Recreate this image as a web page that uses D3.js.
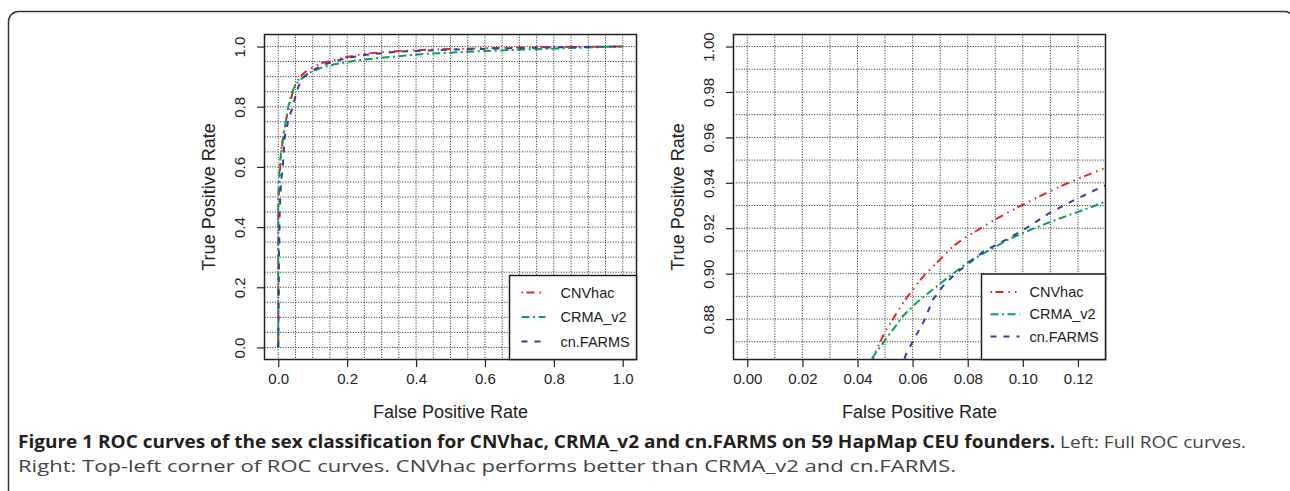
<!DOCTYPE html>
<html>
<head>
  <meta charset="UTF-8">
  <style>
    body { margin: 0; background: #fff; }
    svg { display: block; }
    .tick text { font-family: "Liberation Sans", Arial, sans-serif; }
  </style>
</head>
<body>
<svg></svg>
<script src="https://d3js.org/d3.v7.min.js"></script>
<script>

let width = 1290, height = 491;

// ROC points [fpr, tpr]
const methods = ["CNVhac", "CRMA_v2", "cn.FARMS"];

const cnvhac = [[0,0],[0,0.45],[0.003,0.55],[0.007,0.62],[0.012,0.68],[0.017,0.72],[0.025,0.77],[0.034,0.81],
  [0.040,0.84],[0.0462,0.8647],[0.0499,0.8742],[0.0566,0.8873],[0.0602,0.8932],[0.0645,0.8997],[0.0700,0.9063],
  [0.0747,0.9121],[0.0796,0.9163],[0.0845,0.9198],[0.0905,0.9242],[0.0989,0.9297],[0.105,0.9334],[0.1135,0.9384],
  [0.1207,0.9421],[0.129,0.9461],[0.16,0.955],[0.2,0.965],[0.25,0.976],[0.35,0.985],[0.45,0.99],[0.55,0.993],
  [0.7,0.997],[0.85,0.999],[1,1]];

const crma = [[0,0],[0,0.5],[0.004,0.6],[0.009,0.66],[0.0145,0.70],[0.02,0.74],[0.029,0.80],[0.039,0.845],
  [0.0455,0.8632],[0.0499,0.8705],[0.0566,0.8815],[0.0615,0.8873],[0.0675,0.8932],[0.0736,0.8990],[0.0808,0.9056],
  [0.0869,0.9097],[0.0953,0.9154],[0.1038,0.9198],[0.1122,0.9238],[0.1207,0.9275],[0.129,0.9312],[0.16,0.94],
  [0.228,0.954],[0.3,0.963],[0.421,0.975],[0.55,0.983],[0.711,0.99],[0.9,0.997],[1,1]];

const cnfarms = [[0,0],[0.002,0.3],[0.004,0.45],[0.008,0.55],[0.013,0.60],[0.019,0.70],[0.03,0.76],[0.042,0.80],
  [0.051,0.84],[0.0574,0.8639],[0.0602,0.8705],[0.0639,0.8786],[0.0675,0.8888],[0.0711,0.8946],[0.0760,0.9005],
  [0.0808,0.9049],[0.0857,0.9097],[0.0941,0.9151],[0.1014,0.9202],[0.1098,0.9268],[0.1195,0.9329],[0.129,0.9384],
  [0.16,0.95],[0.2,0.962],[0.25,0.972],[0.35,0.983],[0.45,0.988],[0.55,0.991],[0.7,0.995],[0.85,0.998],[1,1]];

const curves = [cnvhac, crma, cnfarms];
const colors = ["#e8231f", "#00a651", "#3b3ba0"];
const dashes = ["1.5,3.5,8,5,1.5,5", "8,3.5,2,3.5", "6,7"];

// axis ticks
const fullTicks = [0, 0.2, 0.4, 0.6, 0.8, 1.0];
const zoomXTicks = [0, 0.02, 0.04, 0.06, 0.08, 0.10, 0.12];
const zoomYTicks = [0.88, 0.90, 0.92, 0.94, 0.96, 0.98, 1.00];

const captionBold = "Figure 1 ROC curves of the sex classification for CNVhac, CRMA_v2 and cn.FARMS on 59 HapMap CEU founders.";
const captionRest = " Left: Full ROC curves.";
const captionLine2 = "Right: Top-left corner of ROC curves. CNVhac performs better than CRMA_v2 and cn.FARMS.";

let svg = d3.select("svg")
    .attr("width", width)
    .attr("height", height);

// figure frame
svg.append("rect")
    .attr("x", 8.5).attr("y", 11.5)
    .attr("width", 1286).attr("height", 540)
    .attr("rx", 10)
    .attr("fill", "none")
    .attr("stroke", "#333")
    .attr("stroke-width", 1.5);

function panel(opt) {
    let x = d3.scaleLinear().domain(opt.xdom).range([opt.left, opt.right]);
    let y = d3.scaleLinear().domain(opt.ydom).range([opt.bottom, opt.top]);
    let g = svg.append("g");

    // grid
    let gx = d3.range(Math.ceil(opt.xdom[0] / opt.grid), Math.floor(opt.xdom[1] / opt.grid) + 1).map(i => i * opt.grid);
    let gy = d3.range(Math.ceil(opt.ydom[0] / opt.grid), Math.floor(opt.ydom[1] / opt.grid) + 1).map(i => i * opt.grid);
    g.append("g").selectAll("line").data(gx).enter().append("line")
        .attr("x1", d => x(d)).attr("x2", d => x(d))
        .attr("y1", opt.top).attr("y2", opt.bottom)
        .attr("stroke", "#222").attr("stroke-width", 1).attr("stroke-dasharray", "1,1.6");
    g.append("g").selectAll("line").data(gy).enter().append("line")
        .attr("x1", opt.left).attr("x2", opt.right)
        .attr("y1", d => y(d)).attr("y2", d => y(d))
        .attr("stroke", "#222").attr("stroke-width", 1).attr("stroke-dasharray", "1,1.6");

    // curves
    let clipId = "clip" + opt.id;
    svg.append("clipPath").attr("id", clipId).append("rect")
        .attr("x", opt.left).attr("y", opt.top)
        .attr("width", opt.right - opt.left).attr("height", opt.bottom - opt.top);
    let line = d3.line().x(d => x(d[0])).y(d => y(d[1]));
    g.append("g").attr("clip-path", "url(#" + clipId + ")")
        .selectAll("path").data(curves).enter().append("path")
        .attr("d", line)
        .attr("fill", "none")
        .attr("stroke", (d, i) => colors[i])
        .attr("stroke-width", 2)
        .attr("stroke-dasharray", (d, i) => dashes[i]);

    // axes
    let xAxis = d3.axisBottom(x).tickValues(opt.xticks).tickFormat(d3.format(opt.fmt)).tickSize(7).tickPadding(6);
    let xa = g.append("g").attr("transform", "translate(0," + (opt.bottom + 0.5) + ")").call(xAxis);
    xa.select(".domain").remove();
    xa.selectAll("text").attr("font-size", 15).attr("fill", "#222");
    xa.selectAll("line").attr("stroke", "#222").attr("stroke-width", 1.2);

    let yAxis = d3.axisLeft(y).tickValues(opt.yticks).tickFormat(d3.format(opt.yfmt)).tickSize(7);
    let ya = g.append("g").attr("transform", "translate(" + (opt.left - 0.5) + ",0)").call(yAxis);
    ya.select(".domain").remove();
    ya.selectAll("line").attr("stroke", "#222").attr("stroke-width", 1.2);
    ya.selectAll("text")
        .attr("font-size", 15).attr("fill", "#222")
        .attr("text-anchor", "middle")
        .attr("x", 0).attr("dy", 0)
        .attr("transform", "translate(-19,0) rotate(-90)");

    // box
    g.append("rect")
        .attr("x", opt.left).attr("y", opt.top)
        .attr("width", opt.right - opt.left).attr("height", opt.bottom - opt.top)
        .attr("fill", "none").attr("stroke", "#222").attr("stroke-width", 1.5);

    // titles
    g.append("text")
        .attr("x", (opt.left + opt.right) / 2).attr("y", 418)
        .attr("text-anchor", "middle")
        .attr("font-family", "Liberation Sans, Arial, sans-serif")
        .attr("font-size", 18).attr("fill", "#222")
        .text("False Positive Rate");
    g.append("text")
        .attr("transform", "translate(" + (opt.left - 50) + "," + ((opt.top + opt.bottom) / 2) + ") rotate(-90)")
        .attr("text-anchor", "middle")
        .attr("font-family", "Liberation Sans, Arial, sans-serif")
        .attr("font-size", 18).attr("fill", "#222")
        .text("True Positive Rate");

    // legend
    let lg = g.append("g");
    lg.append("rect")
        .attr("x", opt.leg.x).attr("y", opt.leg.y)
        .attr("width", opt.right - opt.leg.x).attr("height", opt.bottom - opt.leg.y)
        .attr("fill", "#fff").attr("stroke", "#222").attr("stroke-width", 1.5);
    methods.forEach((m, i) => {
        let yy = opt.leg.y + opt.leg.first + i * opt.leg.step;
        lg.append("line")
            .attr("x1", opt.leg.x + opt.leg.l1).attr("x2", opt.leg.x + opt.leg.l2)
            .attr("y1", yy).attr("y2", yy)
            .attr("stroke", colors[i]).attr("stroke-width", 2)
            .attr("stroke-dasharray", dashes[i]);
        lg.append("text")
            .attr("x", opt.leg.x + opt.leg.tx).attr("y", yy + 5)
            .attr("font-family", "Liberation Sans, Arial, sans-serif")
            .attr("font-size", 14.5).attr("fill", "#222")
            .text(m);
    });
}

panel({
    id: 1, left: 264.5, right: 636.5, top: 34.5, bottom: 359.5,
    xdom: [-0.04, 1.04], ydom: [-0.04, 1.04], grid: 0.05,
    xticks: fullTicks, yticks: fullTicks, fmt: ".1f", yfmt: ".1f",
    leg: { x: 509.5, y: 275.5, first: 17, step: 24.5, l1: 12, l2: 36, tx: 51 }
});

panel({
    id: 2, left: 733.5, right: 1105.5, top: 34.5, bottom: 359.5,
    xdom: [-0.005, 0.13], ydom: [0.8622, 1.0053], grid: 0.01,
    xticks: zoomXTicks, yticks: zoomYTicks, fmt: ".2f", yfmt: ".2f",
    leg: { x: 981.5, y: 274, first: 18, step: 22.3, l1: 9, l2: 38, tx: 48 }
});

// caption
svg.append("text")
    .attr("x", 18).attr("y", 448)
    .attr("font-family", "Open Sans, sans-serif")
    .attr("font-size", 17)
    .attr("textLength", 1228).attr("lengthAdjust", "spacingAndGlyphs")
    .call(t => {
        t.append("tspan").attr("font-weight", "bold").attr("fill", "#231f20").text(captionBold);
        t.append("tspan").attr("fill", "#444").text(captionRest);
    });
svg.append("text")
    .attr("x", 18).attr("y", 472)
    .attr("font-family", "Open Sans, sans-serif")
    .attr("font-size", 17)
    .attr("fill", "#444")
    .attr("textLength", 938).attr("lengthAdjust", "spacingAndGlyphs")
    .text(captionLine2);

</script>
</body>
</html>
